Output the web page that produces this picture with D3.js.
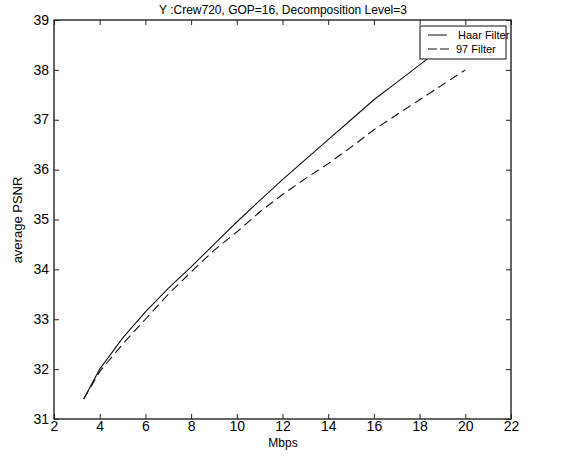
<!DOCTYPE html>
<html>
<head>
<meta charset="utf-8">
<script src="https://d3js.org/d3.v7.min.js"></script>
<style>
body { margin: 0; background: #fff; font-family: 'Liberation Sans', Arial, sans-serif; }
svg { display: block; }
</style>
</head>
<body>
<svg width="566" height="461"></svg>
<script>
// values
var haarX = [3.3, 4, 5, 6, 7, 8, 9, 10, 11, 12, 13, 14, 15, 16, 17, 18, 19, 19.6];
var haarY = [31.4, 32.0, 32.62, 33.15, 33.62, 34.05, 34.5, 34.95, 35.38, 35.8, 36.2, 36.6, 37.0, 37.4, 37.75, 38.1, 38.45, 38.65];
var f97X = [3.3, 4, 5, 6, 7, 8, 9, 10, 11, 12, 13, 14, 15, 16, 17, 18, 19, 20];
var f97Y = [31.4, 31.95, 32.5, 33.0, 33.5, 33.95, 34.38, 34.75, 35.15, 35.5, 35.82, 36.12, 36.45, 36.8, 37.1, 37.4, 37.7, 38.0];
var xTicks = [2, 4, 6, 8, 10, 12, 14, 16, 18, 20, 22];
var yTicks = [31, 32, 33, 34, 35, 36, 37, 38, 39];
var seriesNames = ["Haar Filter", "97 Filter"];

var svg = d3.select("svg");
var pLeft = 54, pRight = 511, pTop = 20, pBottom = 419;

var x = d3.scaleLinear().domain([2, 22]).range([pLeft, pRight]);
var y = d3.scaleLinear().domain([31, 39]).range([pBottom, pTop]);

// frame
svg.append("rect")
  .attr("x", pLeft).attr("y", pTop)
  .attr("width", pRight - pLeft).attr("height", pBottom - pTop)
  .attr("fill", "none").attr("stroke", "#111").attr("stroke-width", 1.3);

// ticks inside, MATLAB style
var xAxis = d3.axisBottom(x).tickValues(xTicks).tickSize(-5).tickSizeOuter(0).tickPadding(2);
var yAxis = d3.axisLeft(y).tickValues(yTicks).tickSize(-5).tickSizeOuter(0).tickPadding(5);

var gx = svg.append("g").attr("transform", "translate(0," + pBottom + ")").call(xAxis);
var gy = svg.append("g").attr("transform", "translate(" + pLeft + ",0)").call(yAxis);
svg.append("g").attr("transform", "translate(0," + pTop + ")")
  .call(d3.axisTop(x).tickValues(xTicks).tickSize(-5).tickSizeOuter(0).tickFormat(""));
svg.append("g").attr("transform", "translate(" + pRight + ",0)")
  .call(d3.axisRight(y).tickValues(yTicks).tickSize(-5).tickSizeOuter(0).tickFormat(""));

svg.selectAll(".domain").remove();
svg.selectAll(".tick line").attr("stroke", "#222");
svg.selectAll(".tick text")
  .attr("fill", "#000")
  .style("font-size", "14px")
  .style("font-family", "'Liberation Sans', Arial, sans-serif");
gx.selectAll(".tick text").attr("dy", "0.72em");
gy.selectAll(".tick text").attr("dy", "0.3em");

// lines
var line = d3.line().x(function(d) { return x(d[0]); }).y(function(d) { return y(d[1]); });
var haar = haarX.map(function(v, i) { return [v, haarY[i]]; });
var f97 = f97X.map(function(v, i) { return [v, f97Y[i]]; });

svg.append("path").datum(haar).attr("d", line)
  .attr("fill", "none").attr("stroke", "#111").attr("stroke-width", 1.1);
svg.append("path").datum(f97).attr("d", line)
  .attr("fill", "none").attr("stroke", "#111").attr("stroke-width", 1.1)
  .attr("stroke-dasharray", "9,5");

// legend (opaque box)
var lg = svg.append("g").attr("transform", "translate(420,26)");
lg.append("rect").attr("width", 86).attr("height", 33)
  .attr("fill", "#fff").attr("stroke", "#111").attr("stroke-width", 1);
seriesNames.forEach(function(name, i) {
  var yy = 9 + i * 14;
  lg.append("line").attr("x1", 8).attr("x2", i === 0 ? 27 : 30).attr("y1", yy).attr("y2", yy)
    .attr("stroke", "#111").attr("stroke-width", 1)
    .attr("stroke-dasharray", i === 1 ? "9,3" : null);
  lg.append("text").attr("x", i === 0 ? 38 : 36).attr("y", yy + 4)
    .style("font-size", "11px").attr("fill", "#000").text(name);
});

// title and labels
svg.append("text").attr("x", 283).attr("y", 14).attr("text-anchor", "middle")
  .style("font-size", "12px").attr("fill", "#000")
  .text("Y :Crew720, GOP=16, Decomposition Level=3");
svg.append("text").attr("x", 283).attr("y", 447).attr("text-anchor", "middle")
  .style("font-size", "12px").attr("fill", "#000").text("Mbps");
svg.append("text").attr("transform", "translate(22,220) rotate(-90)").attr("text-anchor", "middle")
  .style("font-size", "13px").attr("fill", "#000").text("average PSNR");
</script>
</body>
</html>
